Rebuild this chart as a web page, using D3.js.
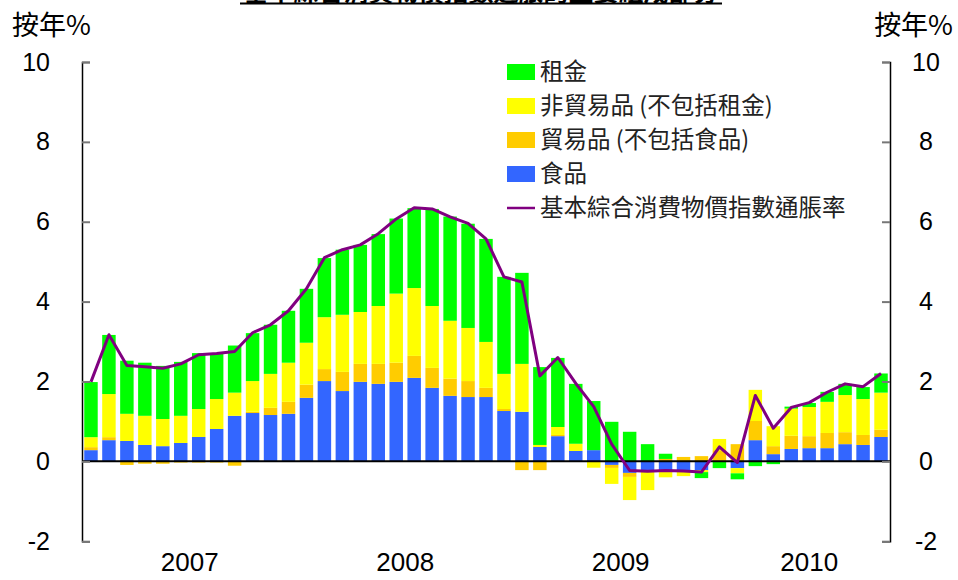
<!DOCTYPE html>
<html><head><meta charset="utf-8">
<script src="https://cdn.jsdelivr.net/npm/d3@7"></script>
<style>body{margin:0;background:#fff}svg{display:block}</style>
</head><body><svg id="c" width="958" height="580"></svg>
<script>
const months = [
 "2007-01","2007-02","2007-03","2007-04","2007-05","2007-06","2007-07","2007-08","2007-09","2007-10","2007-11","2007-12",
 "2008-01","2008-02","2008-03","2008-04","2008-05","2008-06","2008-07","2008-08","2008-09","2008-10","2008-11","2008-12",
 "2009-01","2009-02","2009-03","2009-04","2009-05","2009-06","2009-07","2009-08","2009-09","2009-10","2009-11","2009-12",
 "2010-01","2010-02","2010-03","2010-04","2010-05","2010-06","2010-07","2010-08","2010-09"];
const food = [0.28,0.53,0.51,0.41,0.38,0.46,0.61,0.81,1.14,1.21,1.16,1.19,
 1.59,2.01,1.76,1.99,1.94,1.99,2.09,1.84,1.64,1.61,1.61,1.26,
 1.24,0.36,0.63,0.26,0.28,-0.09,-0.29,-0.22,-0.22,-0.22,-0.22,0,
 -0.17,0.53,0.18,0.31,0.33,0.33,0.43,0.41,0.61];
const tradables = [0.075,0.075,-0.09,-0.06,-0.06,-0.03,-0.03,-0.03,-0.11,0.03,0.18,0.30,
 0.33,0.30,0.48,0.45,0.50,0.48,0.55,0.50,0.43,0.40,0.23,0.05,
 -0.22,-0.22,0.03,0,0,-0.075,-0.10,-0.04,0.06,0.11,0.13,0.28,
 0.43,0.48,0.20,0.33,0.30,0.38,0.30,0.25,0.18];
const nonTradables = [0.25,1.08,0.68,0.73,0.68,0.68,0.70,0.75,0.58,0.77,0.85,0.98,
 1.05,1.30,1.43,1.30,1.45,1.73,1.70,1.55,1.45,1.33,1.15,0.88,
 1.20,0.05,0.20,0.18,-0.16,-0.40,-0.58,-0.46,-0.18,-0.15,-0.05,0.28,
 -0.13,0.78,0.50,0.68,0.73,0.78,0.93,0.90,0.93];
const rent = [1.38,1.48,1.33,1.33,1.33,1.35,1.40,1.13,1.18,1.20,1.23,1.30,
 1.35,1.48,1.63,1.68,1.80,1.88,2.00,2.43,2.61,2.61,2.58,2.43,
 2.28,1.95,1.73,1.50,1.23,0.99,0.74,0.43,0.13,0,-0.15,-0.17,
 -0.15,-0.12,-0.07,0.05,0.10,0.25,0.28,0.30,0.48];
const underlying = [1.99,3.17,2.40,2.37,2.33,2.44,2.67,2.70,2.75,3.22,3.42,3.77,
 4.32,5.10,5.30,5.42,5.70,6.07,6.35,6.32,6.12,5.96,5.57,4.62,
 4.49,2.14,2.60,1.95,1.37,0.43,-0.23,-0.25,-0.23,-0.24,-0.27,0.36,
 -0.03,1.65,0.83,1.35,1.47,1.73,1.94,1.87,2.20];
const years = ["2007","2008","2009","2010"];
const yTicks = [-2,0,2,4,6,8,10];
const seriesNames = ["食品","貿易品 (不包括食品)","非貿易品 (不包括租金)","租金"];
const lineName = "基本綜合消費物價指數通脹率";
const unitLabel = "按年%";
const title = "基本綜合消費物價指數通脹的主要組成部分";

const colors = {"食品":"#3366FF","貿易品 (不包括食品)":"#FFCC00","非貿易品 (不包括租金)":"#FFFF00","租金":"#00FF00"};
const lineColor = "#800080";

const svg = d3.select("#c");
const L = 82, R = 890, T = 62, B = 541.2;
const x = d3.scaleBand().domain(months).range([L, R]).paddingInner(0.25).paddingOuter(0.125);
const y = d3.scaleLinear().domain([-2, 10]).range([B, T]);

const rows = months.map((m, i) => ({
  month: m, "食品": food[i], "貿易品 (不包括食品)": tradables[i],
  "非貿易品 (不包括租金)": nonTradables[i], "租金": rent[i]
}));
const stack = d3.stack().keys(seriesNames).offset(d3.stackOffsetDiverging)(rows);

const cjk = "'Noto Sans CJK TC','Noto Sans CJK SC',sans-serif";
const latin = "'Liberation Sans',Arial,sans-serif";

// title (cropped at the top, as in the reference)
svg.append("text").attr("x", 481).attr("y", 1).attr("text-anchor", "middle")
  .attr("font-family", cjk).attr("font-weight", "bold").attr("font-size", 25).attr("fill", "#000").text(title);
svg.append("line").attr("x1", 240).attr("x2", 722).attr("y1", 3.5).attr("y2", 3.5).attr("stroke", "#000").attr("stroke-width", 2);

// bars
svg.append("g").selectAll("g").data(stack).join("g").attr("fill", d => colors[d.key])
  .selectAll("rect").data(d => d).join("rect")
  .attr("x", d => x(d.data.month)).attr("width", x.bandwidth())
  .attr("y", d => y(Math.max(d[0], d[1]))).attr("height", d => Math.abs(y(d[0]) - y(d[1])));

// zero line
svg.append("line").attr("x1", L).attr("x2", R).attr("y1", y(0)).attr("y2", y(0)).attr("stroke", "#000").attr("stroke-width", 2);

// axes
const fmt = d => String(d);
const yl = d3.axisLeft(y).tickValues(yTicks).tickSize(-8).tickFormat(fmt);
const yr = d3.axisRight(y).tickValues(yTicks).tickSize(-8).tickFormat(fmt);
const gl = svg.append("g").attr("transform", `translate(${L},0)`).call(yl);
const gr = svg.append("g").attr("transform", `translate(${R},0)`).call(yr);
[gl, gr].forEach(g => {
  g.select(".domain").attr("stroke", "#000").attr("stroke-width", 1.5);
  g.selectAll(".tick line").attr("stroke", "#777").attr("stroke-width", 2);
  g.selectAll(".tick text").attr("font-family", latin).attr("font-size", 25).attr("fill", "#000");
});
gl.selectAll(".tick text").attr("text-anchor", "end").attr("x", -32);
gr.selectAll(".tick text").attr("text-anchor", "middle").attr("x", 36);

// year labels
years.forEach(yr0 => {
  const ms = months.filter(m => m.startsWith(yr0));
  const cx = (x(ms[0]) + x(ms[ms.length - 1]) + x.bandwidth()) / 2;
  svg.append("text").attr("x", cx).attr("y", 571).attr("text-anchor", "middle")
    .attr("font-family", latin).attr("font-size", 26).attr("fill", "#000").text(yr0);
});

// unit labels
svg.append("text").attr("x", 12).attr("y", 35).attr("font-family", cjk).attr("font-size", 27).attr("fill", "#000").text(unitLabel);
svg.append("text").attr("x", 953).attr("y", 35).attr("text-anchor", "end").attr("font-family", cjk).attr("font-size", 27).attr("fill", "#000").text(unitLabel);

// line
const line = d3.line().x((d, i) => x(months[i]) + x.bandwidth() / 2).y(d => y(d));
svg.append("path").datum(underlying).attr("d", line).attr("fill", "none")
  .attr("stroke", lineColor).attr("stroke-width", 3).attr("stroke-linejoin", "round");

// legend
const legendItems = ["租金","非貿易品 (不包括租金)","貿易品 (不包括食品)","食品"];
const lg = svg.append("g");
legendItems.forEach((k, i) => {
  const cy = 72 + i * 34;
  lg.append("rect").attr("x", 507).attr("y", cy - 8).attr("width", 28).attr("height", 16).attr("fill", colors[k]);
  lg.append("text").attr("x", 540).attr("y", cy).attr("dy", "0.36em").attr("font-family", cjk)
    .attr("font-size", 23.5).attr("fill", "#222").text(k);
});
const ly = 72 + 4 * 34;
lg.append("line").attr("x1", 507).attr("x2", 535).attr("y1", ly).attr("y2", ly).attr("stroke", lineColor).attr("stroke-width", 2.5);
lg.append("text").attr("x", 540).attr("y", ly).attr("dy", "0.36em").attr("font-family", cjk)
  .attr("font-size", 23.5).attr("fill", "#222").text(lineName);
</script></body></html>
